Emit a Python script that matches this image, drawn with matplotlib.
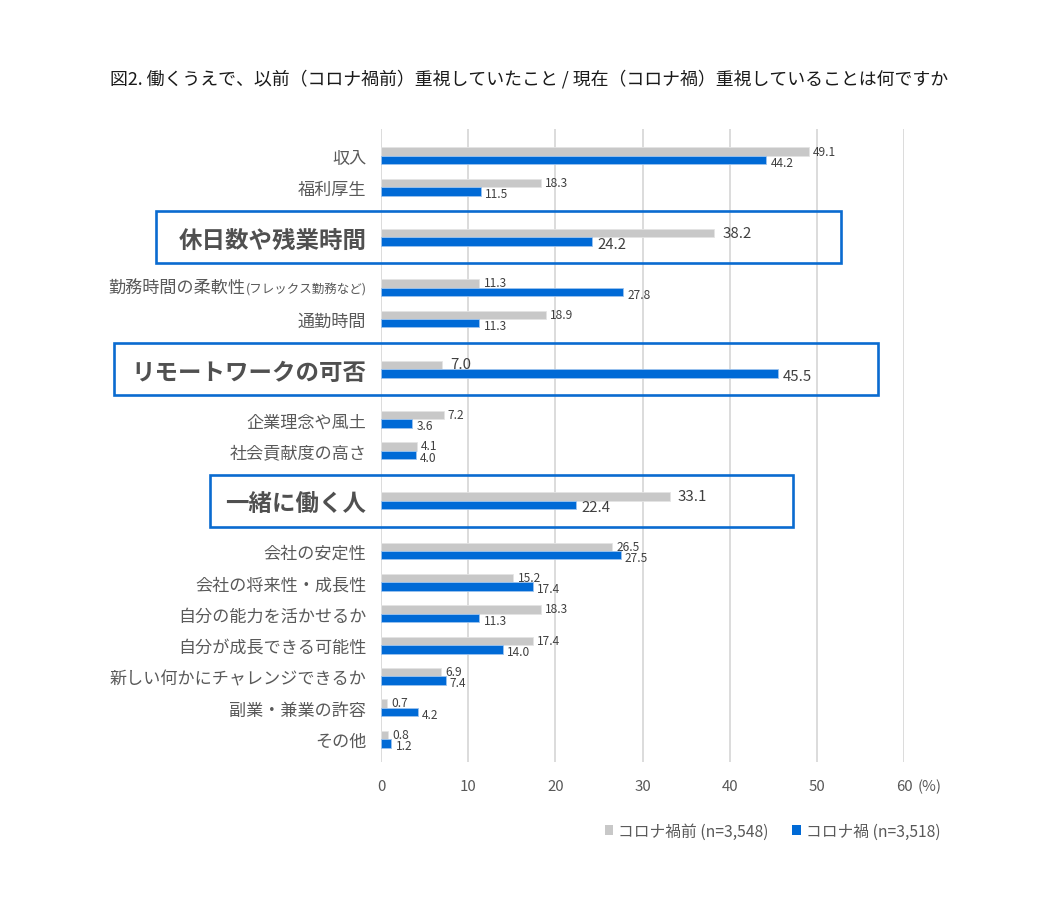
import matplotlib
matplotlib.use("Agg")
import matplotlib.pyplot as plt
from matplotlib.patches import Rectangle, Patch
from matplotlib.offsetbox import TextArea, HPacker, AnnotationBbox

plt.rcParams['font.family'] = ['Noto Sans CJK JP', 'DejaVu Sans']

# ---------- data ----------
categories = ["収入", "福利厚生", "休日数や残業時間", "勤務時間の柔軟性", "通勤時間",
              "リモートワークの可否", "企業理念や風土", "社会貢献度の高さ", "一緒に働く人",
              "会社の安定性", "会社の将来性・成長性", "自分の能力を活かせるか",
              "自分が成長できる可能性", "新しい何かにチャレンジできるか",
              "副業・兼業の許容", "その他"]
note_suffix = "(フレックス勤務など)"   # small text after 勤務時間の柔軟性
before = [49.1, 18.3, 38.2, 11.3, 18.9, 7.0, 7.2, 4.1, 33.1,
          26.5, 15.2, 18.3, 17.4, 6.9, 0.7, 0.8]
during = [44.2, 11.5, 24.2, 27.8, 11.3, 45.5, 3.6, 4.0, 22.4,
          27.5, 17.4, 11.3, 14.0, 7.4, 4.2, 1.2]
highlight = [False, False, True, False, False, True, False, False, True,
             False, False, False, False, False, False, False]
legend_labels = ["コロナ禍前 (n=3,548)", "コロナ禍 (n=3,518)"]
title = "図2. 働くうえで、以前（コロナ禍前）重視していたこと / 現在（コロナ禍）重視していることは何ですか"

# ---------- style ----------
GRAY = "#C8C8C8"
BLUE = "#006AD6"
BOX = "#0A6BD0"
TXT = "#595959"
VAL = "#404040"
BAR_H = 0.27
# box extents (x in data units) for highlighted rows
box_x = {2: (-25.8, 52.8), 5: (-30.6, 57.0), 8: (-19.6, 47.3)}

# row positions: extra room around highlighted rows
pos = []
y = 0.0
for i, h in enumerate(highlight):
    if i > 0:
        y += 1.6 if (h or highlight[i - 1]) else 1.0
    pos.append(y)

fig = plt.figure(figsize=(10.6, 9.03), dpi=100)
ax = fig.add_axes([381 / 1060, 1 - 763 / 903, 523 / 1060, 633 / 903])

gy = [p - BAR_H / 2 for p in pos]
by = [p + BAR_H / 2 for p in pos]
ax.barh(gy, before, height=BAR_H, color=GRAY, edgecolor="#E4E4E4", linewidth=0.6)
ax.barh(by, during, height=BAR_H, color=BLUE, edgecolor="#9CC3EE", linewidth=0.6)

ax.set_xlim(0, 60)
ax.set_ylim(pos[-1] + 0.73, -0.86)
ax.set_xticks(range(0, 61, 10))
ax.xaxis.grid(True, color="#D9D9D9", linewidth=1.3)
ax.set_axisbelow(True)
for s in ax.spines.values():
    s.set_visible(False)
ax.tick_params(axis="x", length=0, pad=12, labelsize=10.8, labelcolor=TXT)
ax.tick_params(axis="y", length=0, pad=10.5)

ticklabels = [("" if c == "勤務時間の柔軟性" else c) for c in categories]
ax.set_yticks(pos, ticklabels)
for lab, h in zip(ax.get_yticklabels(), highlight):
    if h:
        lab.set_fontsize(16.9)
        lab.set_fontweight("bold")
        lab.set_color("#505050")
    else:
        lab.set_fontsize(12.3)
        lab.set_color(TXT)

# mixed-size label
i_flex = categories.index("勤務時間の柔軟性")
packer = HPacker(children=[
    TextArea(categories[i_flex], textprops=dict(fontsize=12.3, color=TXT)),
    TextArea(note_suffix, textprops=dict(fontsize=9, color=TXT)),
], align="baseline", pad=0, sep=0)
ab = AnnotationBbox(packer, (0, pos[i_flex]), xycoords=ax.get_yaxis_transform(),
                    xybox=(-10.5, 0), boxcoords="offset points",
                    box_alignment=(1, 0.5), frameon=False, pad=0,
                    annotation_clip=False)
ax.add_artist(ab)

# value labels
for i in range(len(categories)):
    fs = 10.8 if highlight[i] else 8.6
    gdx = 6 if highlight[i] else 3
    bdx = 4 if highlight[i] else 3
    ax.annotate(f"{before[i]:.1f}", (before[i], gy[i]), xytext=(gdx, 0.4),
                textcoords="offset points", ha="left", va="center",
                fontsize=fs, color=VAL)
    ax.annotate(f"{during[i]:.1f}", (during[i], by[i]), xytext=(bdx, -1.6),
                textcoords="offset points", ha="left", va="center",
                fontsize=fs, color=VAL)

# highlight boxes
for i, (x0, x1) in box_x.items():
    ax.add_patch(Rectangle((x0, pos[i] - 0.84), x1 - x0, 1.66, fill=False,
                           edgecolor=BOX, linewidth=1.9, clip_on=False, zorder=5))

ax.annotate("(%)", (60, 0), xycoords=ax.get_xaxis_transform(), xytext=(10, -12),
            textcoords="offset points", ha="left", va="top", fontsize=10.8, color=TXT)

fig.text(0.499, 1 - 79 / 903, title, ha="center", va="center", fontsize=12.9, color="#1A1A1A")

handles = [Patch(facecolor=GRAY), Patch(facecolor=BLUE)]
fig.legend(handles, legend_labels, loc="center right",
           bbox_to_anchor=(948 / 1060, 1 - 832 / 903), ncol=2, frameon=False,
           handlelength=0.55, handleheight=0.55, handletextpad=0.3,
           columnspacing=1.5, fontsize=11.3, labelcolor=TXT, borderpad=0)

fig.savefig("out.png", dpi=100)
